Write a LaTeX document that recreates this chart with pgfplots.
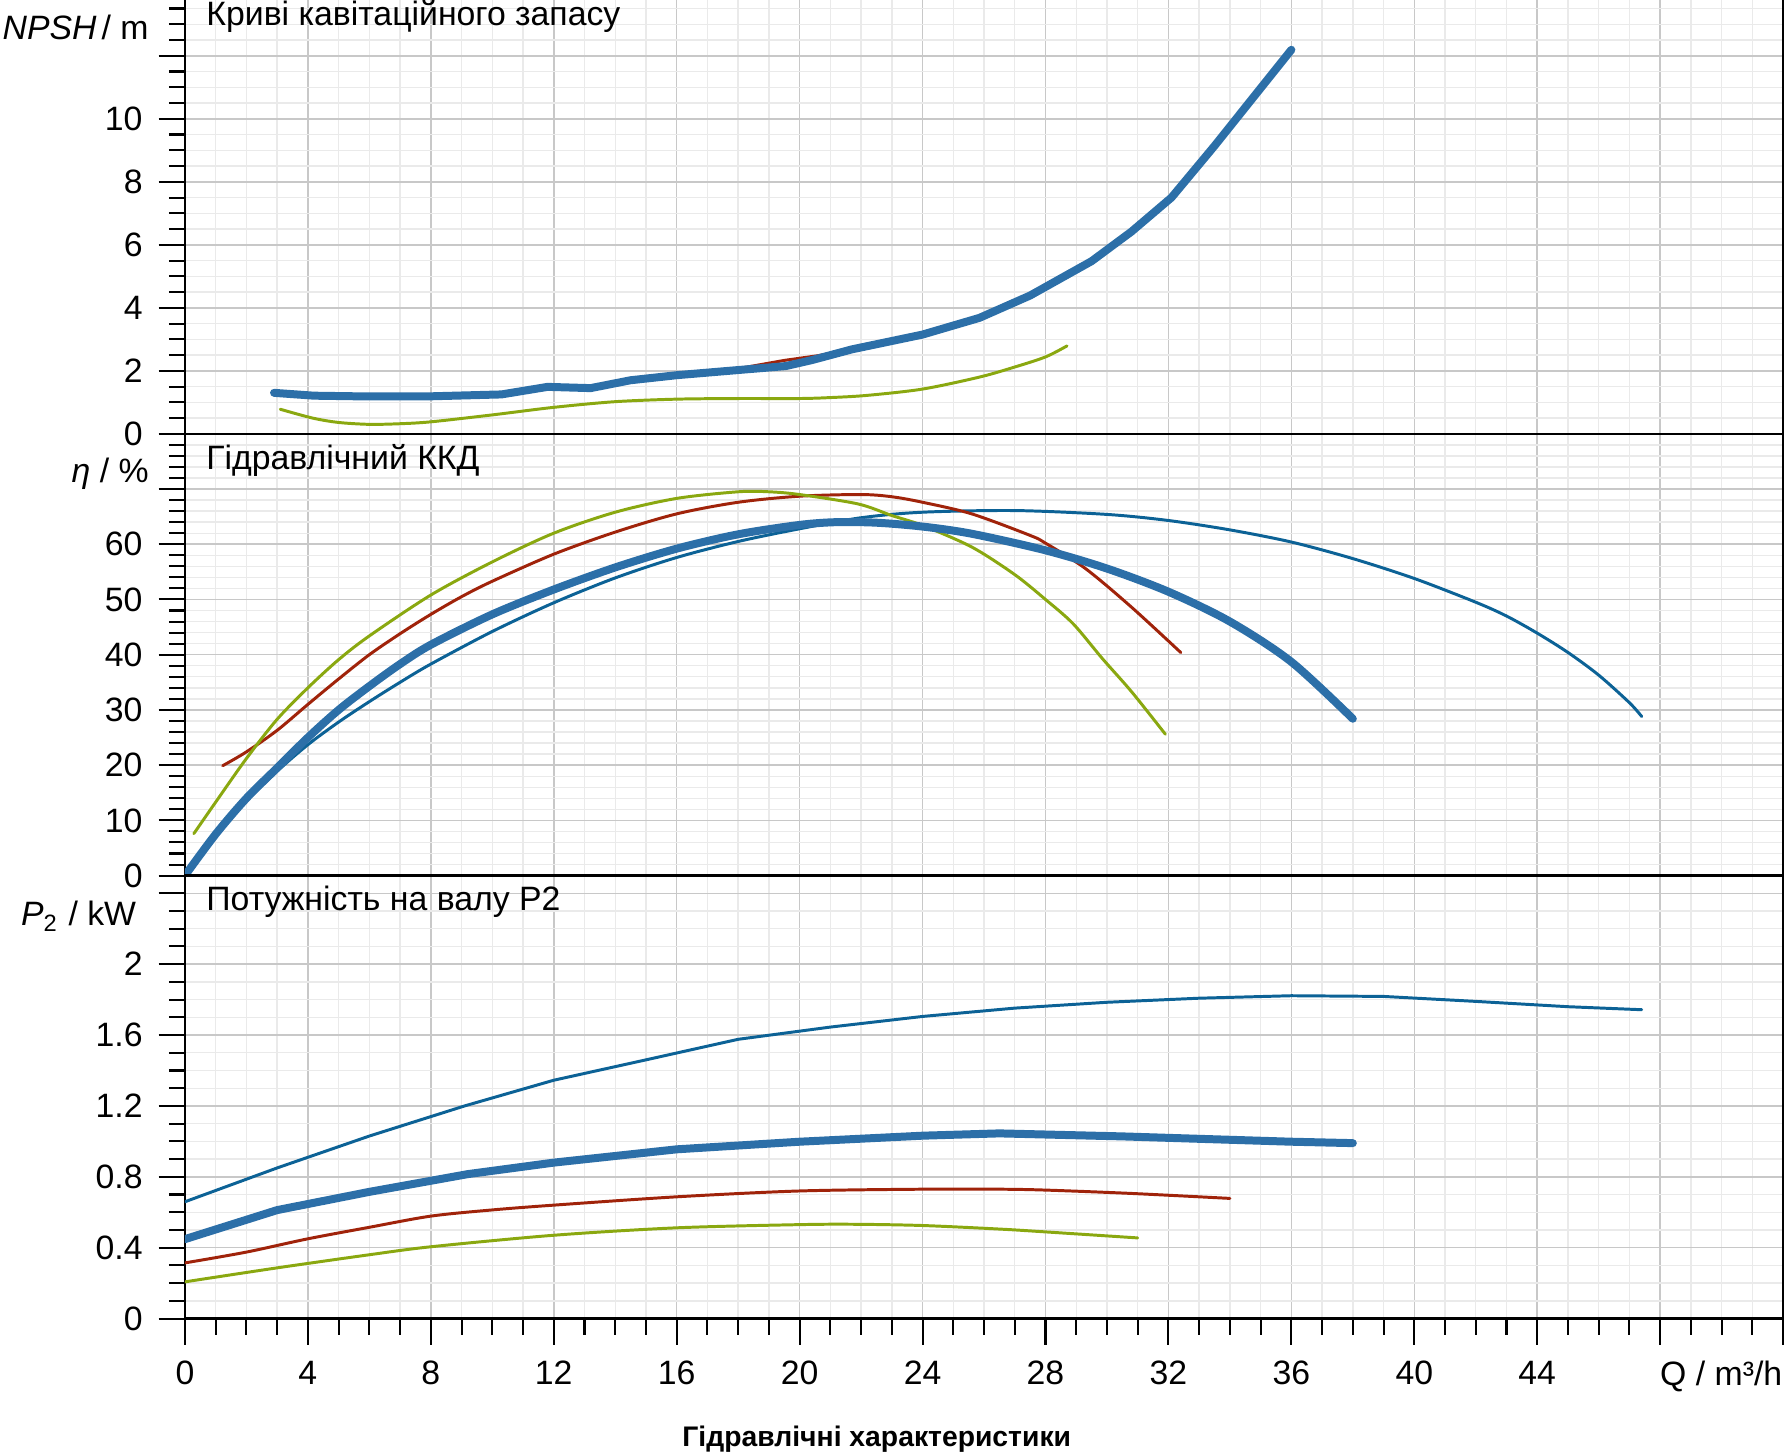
\documentclass[border=0pt]{standalone}
\usepackage{pgfplots}
\pgfplotsset{compat=1.18}
\usepackage{fontspec}
\setmainfont{Liberation Sans}
\setsansfont{Liberation Sans}

\definecolor{pumpthick}{RGB}{44,111,168}
\definecolor{pumpthin}{RGB}{12,98,150}
\definecolor{pumpred}{RGB}{160,35,10}
\definecolor{pumpgreen}{RGB}{138,168,16}
\definecolor{gridmajor}{RGB}{200,200,200}
\definecolor{gridminor}{RGB}{234,234,234}

\newcommand\lab{\fontsize{7.4}{8.9}\selectfont}

\pgfplotsset{
  panel/.style={
    scale only axis, width=350pt,
    xmin=0, xmax=52,
    xtick={0,4,...,52}, minor xtick={0,1,...,52},
    grid=both,
    major grid style={draw=gridmajor, line width=0.35pt},
    minor grid style={draw=gridminor, line width=0.3pt},
    axis line style={black, line width=0.5pt},
    tick align=outside, tick pos=left,
    major tick length=5.75pt, minor tick length=3.5pt,
    every tick/.append style={black, line width=0.45pt},
    tick label style={font=\lab},
    /pgf/number format/assume math mode=true,
  },
  upper/.style={xticklabels={}, x tick style={draw=none}},
  thickline/.style={pumpthick, line width=1.75pt, line cap=round, line join=round},
  thinline/.style={line width=0.65pt, line cap=round, line join=round},
}

\begin{document}
\begin{tikzpicture}
\useasboundingbox (0,0) rectangle (392pt,-318.75pt);

% ---------------- NPSH ----------------
\begin{axis}[panel, upper,
  at={(40.5pt,-95pt)}, anchor=south west, height=95pt,
  ymin=0, ymax=13.77,
  axis x line*=bottom, axis y line*=box,
  ytick={0,2,4,6,8,10,12}, yticklabels={0,2,4,6,8,10,},
  minor ytick={0,0.5,...,13.5},
]
\addplot[thinline, pumpred] coordinates {
 (2.9,1.30) (4.2,1.21) (5.6,1.19) (8,1.19) (10.3,1.25) (11.8,1.49) (13.2,1.45)
 (14.5,1.70) (16,1.86) (17.95,2.06) (19.5,2.33) (20.6,2.48) (21.7,2.68) (24,3.15)
 (25.85,3.68) (27.5,4.39) (29.5,5.48) (30.8,6.42) (32.1,7.5)};
\addplot[thinline, pumpgreen, smooth] coordinates {
 (3.1,0.78) (4.15,0.50) (5.0,0.36) (6.0,0.30) (7.0,0.32) (8,0.38) (10,0.60)
 (12,0.84) (14,1.02) (16,1.10) (18,1.12) (20,1.12) (21,1.15) (22.2,1.22)
 (24,1.42) (25.85,1.80) (27,2.12) (28,2.44) (28.7,2.79)};
\addplot[thickline] coordinates {
 (2.9,1.30) (4.2,1.21) (5.6,1.19) (8,1.19) (10.3,1.25) (11.8,1.49) (13.2,1.45)
 (14.5,1.70) (16,1.86) (17.95,2.02) (19.55,2.15) (20.4,2.34) (21.7,2.68) (24,3.15)
 (25.85,3.68) (27.5,4.39) (29.5,5.48) (30.8,6.42) (32.1,7.5) (33.5,9.14) (36.0,12.19)};
\end{axis}

% ---------------- efficiency ----------------
\begin{axis}[panel, upper,
  at={(40.5pt,-191.75pt)}, anchor=south west, height=96.75pt,
  ymin=0, ymax=80,
  ytick={0,10,...,70}, yticklabels={0,10,20,30,40,50,60,},
  minor ytick={0,2,...,80},
]
\addplot[thinline, pumpthin, smooth] coordinates {
 (0,0) (1,7.2) (2,13.5) (3,18.9) (4,23.7) (5,27.8) (6,31.5) (7,35) (8,38.3)
 (10,44.2) (12,49.4) (14,53.9) (16,57.6) (18,60.5) (20,62.8) (22,64.8) (24,65.8)
 (27,66.1) (30,65.4) (32,64.3) (34,62.6) (36,60.4) (38,57.4) (40,53.8) (42,49.5)
 (43,47.0) (44,43.9) (45,40.4) (46,36.3) (47,31.3) (47.4,28.8)};
\addplot[thinline, pumpred, smooth] coordinates {
 (1.23,19.9) (2,22.4) (3,26.3) (4,31) (5,35.6) (6,40) (7,43.8) (8,47.3) (9,50.5)
 (10,53.3) (12,58.2) (14,62.2) (16,65.5) (18,67.6) (20,68.7) (22,69.0) (23,68.6)
 (24,67.6) (25.6,65.5) (27.5,61.6) (28,60.2) (29.3,55.6) (30.8,48.6) (32.4,40.4)};
\addplot[thinline, pumpgreen, smooth] coordinates {
 (0.29,7.6) (1,13.3) (2,21.2) (3,28.3) (4,34) (5,39.1) (6,43.4) (8,50.8) (10,56.8)
 (12,62) (14,65.8) (16,68.3) (18,69.5) (19,69.5) (20,69) (21.9,67.3) (23,65.2)
 (24,63.4) (25.6,59.5) (27,54.5) (28,50) (28.9,45.6) (29.85,39.3) (30.8,33.3)
 (31.9,25.6)};
\addplot[thickline, smooth] coordinates {
 (0,0) (1,7.5) (2,14) (3,19.5) (4,25) (5,30) (6,34.3) (7,38.3) (8,41.8) (10,47.3)
 (12,51.8) (14,55.8) (16,59.2) (18,61.8) (20,63.5) (21.2,64) (22.5,63.9) (24,63.2)
 (25.6,61.9) (28,58.9) (30,55.6) (32,51.4) (34,46.0) (36,38.7) (38,28.4)};
\end{axis}

% ---------------- shaft power ----------------
\begin{axis}[panel,
  at={(40.5pt,-288.75pt)}, anchor=south west, height=97pt,
  ymin=0, ymax=2.5,
  ytick={0,0.4,0.8,1.2,1.6,2,2.4}, yticklabels={0,0.4,0.8,1.2,1.6,2,},
  minor ytick={0,0.1,...,2.5},
  xticklabels={0,4,8,12,16,20,24,28,32,36,40,44,,},
]
\addplot[thinline, pumpthin] coordinates {
 (0,0.659) (3,0.85) (6,1.03) (9.1,1.2) (12,1.345) (15,1.46) (18,1.576) (21,1.645)
 (24,1.705) (27,1.752) (30,1.785) (33,1.808) (36,1.822) (39,1.818) (42,1.79)
 (45,1.76) (47.4,1.743)};
\addplot[thinline, pumpred, smooth] coordinates {
 (0,0.314) (2,0.375) (4,0.45) (6,0.515) (8,0.578) (10,0.613) (12,0.64) (16,0.687)
 (20,0.72) (24,0.73) (26.5,0.73) (28,0.725) (30.8,0.706) (34,0.678)};
\addplot[thinline, pumpgreen, smooth] coordinates {
 (0,0.207) (3,0.286) (6,0.36) (8,0.405) (12,0.47) (16,0.512) (20,0.53) (21.8,0.532)
 (24,0.525) (26.5,0.505) (28,0.489) (31,0.455)};
\addplot[thickline] coordinates {
 (0,0.448) (3,0.612) (6,0.715) (9.2,0.815) (12,0.88) (16,0.955) (20,0.998)
 (24,1.032) (26.5,1.045) (30.5,1.028) (36,0.998) (38,0.99)};
\end{axis}

% panel titles
\node[anchor=base west, inner sep=0pt, font=\lab] at (45pt,-5.5pt) {Криві кавітаційного запасу};
\node[anchor=base west, inner sep=0pt, font=\lab] at (45pt,-102.75pt) {Гідравлічний ККД};
\node[anchor=base west, inner sep=0pt, font=\lab] at (45pt,-199.5pt) {Потужність на валу P2};
% unit labels
\node[anchor=base east, inner sep=0pt, font=\lab] at (32.75pt,-8.75pt) {\textit{NPSH}\hspace{0.15em}/ m};
\node[anchor=base east, inner sep=0pt, font=\lab] at (32.75pt,-105.75pt) {\textit{η} / \%};
\node[anchor=base east, inner sep=0pt, font=\lab] at (30pt,-202.75pt) {\textit{P}\textsubscript{2} / kW};
\node[anchor=base east, inner sep=0pt, font=\lab] at (390.5pt,-303.5pt) {Q / m³/h};
% x axis caption
\node[anchor=base, inner sep=0pt, font=\fontsize{6.2}{7.4}\selectfont\bfseries] at (192pt,-316.75pt) {Гідравлічні характеристики};
\end{tikzpicture}
\end{document}
